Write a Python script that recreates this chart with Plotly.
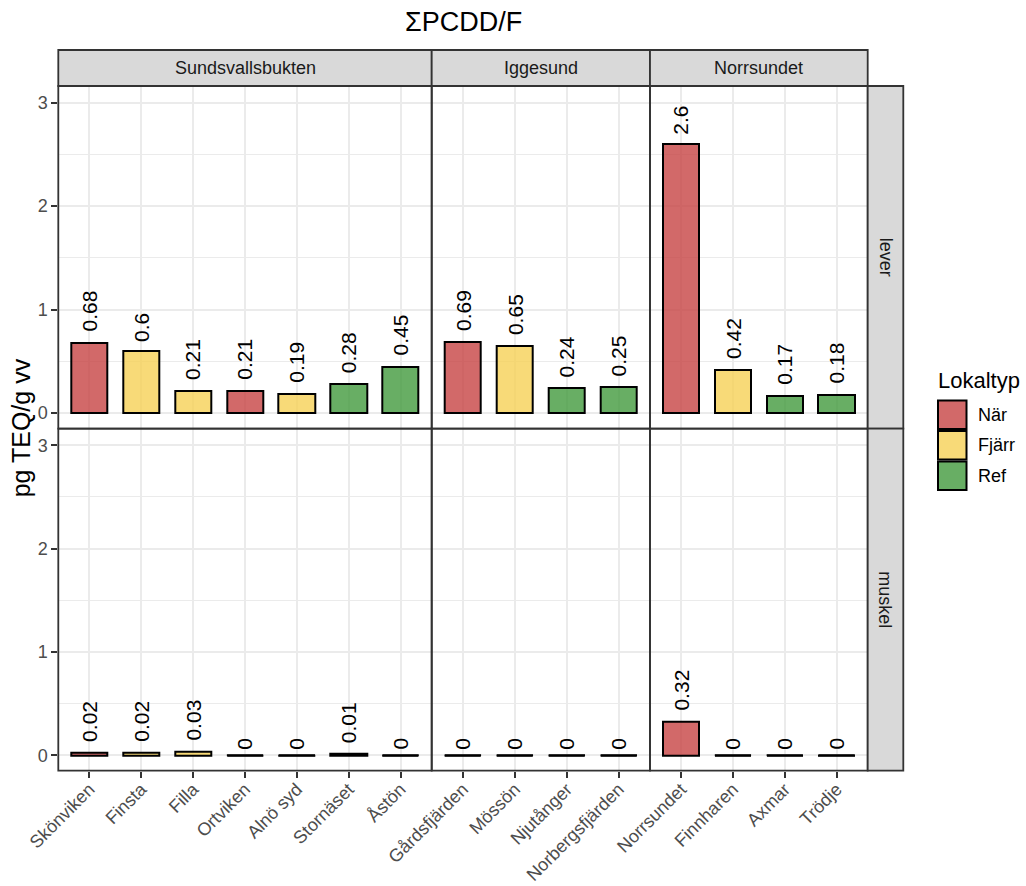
import plotly.graph_objects as go

# ---- data -------------------------------------------------------------
regions = ["Sundsvallsbukten", "Iggesund", "Norrsundet"]
tissues = ["lever", "muskel"]
lokaltyper = ["När", "Fjärr", "Ref"]

sundsvall_sites = ["Skönviken", "Finsta", "Filla", "Ortviken", "Alnö syd", "Stornäset", "Åstön"]
sundsvall_type = ["När", "Fjärr", "Fjärr", "När", "Fjärr", "Ref", "Ref"]
sundsvall_lever = [0.68, 0.6, 0.21, 0.21, 0.19, 0.28, 0.45]
sundsvall_muskel = [0.02, 0.02, 0.03, 0, 0, 0.01, 0]

iggesund_sites = ["Gårdsfjärden", "Mössön", "Njutånger", "Norbergsfjärden"]
iggesund_type = ["När", "Fjärr", "Ref", "Ref"]
iggesund_lever = [0.69, 0.65, 0.24, 0.25]
iggesund_muskel = [0, 0, 0, 0]

norrsundet_sites = ["Norrsundet", "Finnharen", "Axmar", "Trödje"]
norrsundet_type = ["När", "Fjärr", "Ref", "Ref"]
norrsundet_lever = [2.6, 0.42, 0.17, 0.18]
norrsundet_muskel = [0.32, 0, 0, 0]

y_ticks = [0, 1, 2, 3]

sites = {"Sundsvallsbukten": sundsvall_sites, "Iggesund": iggesund_sites,
         "Norrsundet": norrsundet_sites}
site_types = {"Sundsvallsbukten": sundsvall_type, "Iggesund": iggesund_type,
              "Norrsundet": norrsundet_type}
values = {
    "lever": {"Sundsvallsbukten": sundsvall_lever, "Iggesund": iggesund_lever,
              "Norrsundet": norrsundet_lever},
    "muskel": {"Sundsvallsbukten": sundsvall_muskel, "Iggesund": iggesund_muskel,
               "Norrsundet": norrsundet_muskel},
}

# ---- style ------------------------------------------------------------
W, H = 1026, 886
FONT = "Liberation Sans, Arial, sans-serif"
fill = {"När": "rgba(199,68,68,0.8)", "Fjärr": "rgba(246,209,86,0.8)",
        "Ref": "rgba(66,154,61,0.8)"}
BORDER = "#333333"
GRID = "#EBEBEB"
STRIP = "#D9D9D9"
BAR_W = 0.7
LABEL_SIZE = 21

col_edges = [58.3, 431.7, 650.0, 867.7]   # px, panel columns
row_edges = [86.0, 428.7, 770.7]          # px, panel rows
strip_top = 50.0
rstrip_right = 903.3
y_range = [-0.15, 3.16]


def px_x(v):
    return v / W


def px_y(v):
    return 1 - v / H


def label_width(s, size):
    # approximate advance width of a numeric label
    return sum((0.278 if ch == "." else 0.556) for ch in s) * size


fig = go.Figure()
layout_axes = {}
annotations = []
shapes = []

for r, tissue in enumerate(tissues):
    for c, region in enumerate(regions):
        k = r * 3 + c + 1
        xa = "x" if k == 1 else f"x{k}"
        ya = "y" if k == 1 else f"y{k}"
        names = sites[region]
        vals = values[tissue][region]
        types = site_types[region]
        idx = list(range(len(names)))

        fig.add_trace(go.Bar(
            x=idx, y=vals, width=BAR_W, xaxis=xa, yaxis=ya,
            marker=dict(color=[fill[t] for t in types],
                        line=dict(color="black", width=2)),
            showlegend=False, hoverinfo="skip",
        ))

        # zero-height bars still show their outline
        xs, ys = [], []
        for i, v in zip(idx, vals):
            if v == 0:
                xs += [i - BAR_W / 2, i + BAR_W / 2, None]
                ys += [v, v, None]
        if xs:
            fig.add_trace(go.Scatter(
                x=xs, y=ys, mode="lines", xaxis=xa, yaxis=ya,
                line=dict(color="black", width=2),
                showlegend=False, hoverinfo="skip",
            ))

        for i, v in zip(idx, vals):
            txt = f"{v:g}"
            annotations.append(dict(
                x=i, y=v, xref=xa, yref=ya, text=txt, textangle=-90,
                xanchor="center", yanchor="bottom", showarrow=False,
                yshift=0.2 * label_width(txt, LABEL_SIZE) + 1,
                font=dict(family=FONT, size=LABEL_SIZE, color="black"),
            ))

        bottom = r == len(tissues) - 1
        left = c == 0
        xkey = "xaxis" if k == 1 else f"xaxis{k}"
        ykey = "yaxis" if k == 1 else f"yaxis{k}"
        layout_axes[xkey] = dict(
            domain=[px_x(col_edges[c]), px_x(col_edges[c + 1])],
            anchor=ya, range=[-0.6, len(names) - 0.4],
            tickmode="array", tickvals=idx, ticktext=names,
            showticklabels=bottom, ticks="outside" if bottom else "",
            ticklen=6, tickwidth=1.8, tickcolor=BORDER, tickangle=-45,
            ticklabelstandoff=-6,
            tickfont=dict(family=FONT, size=18, color="#4D4D4D"),
            showgrid=True, gridcolor=GRID, gridwidth=1.6, zeroline=False,
            showline=False, fixedrange=True,
        )
        layout_axes[ykey] = dict(
            domain=[px_y(row_edges[r + 1]), px_y(row_edges[r])],
            anchor=xa, range=y_range,
            tickmode="array", tickvals=y_ticks,
            showticklabels=left, ticks="outside" if left else "",
            ticklen=6, tickwidth=1.8, tickcolor=BORDER,
            ticklabelstandoff=0,
            tickfont=dict(family=FONT, size=18, color="#4D4D4D"),
            showgrid=True, gridcolor=GRID, gridwidth=1.6, zeroline=False,
            minor=dict(tickvals=[0.5, 1.5, 2.5], showgrid=True,
                       gridcolor=GRID, gridwidth=0.9, ticks=""),
            showline=False, fixedrange=True,
        )
        # panel border
        shapes.append(dict(type="rect", xref="paper", yref="paper", layer="above",
                           x0=px_x(col_edges[c]), x1=px_x(col_edges[c + 1]),
                           y0=px_y(row_edges[r + 1]), y1=px_y(row_edges[r]),
                           fillcolor="rgba(0,0,0,0)",
                           line=dict(color=BORDER, width=1.8)))

# ---- facet strips -----------------------------------------------------
for c, region in enumerate(regions):
    shapes.append(dict(type="rect", xref="paper", yref="paper",
                       x0=px_x(col_edges[c]), x1=px_x(col_edges[c + 1]),
                       y0=px_y(row_edges[0]), y1=px_y(strip_top),
                       fillcolor=STRIP, line=dict(color=BORDER, width=1.8)))
    annotations.append(dict(
        xref="paper", yref="paper",
        x=px_x((col_edges[c] + col_edges[c + 1]) / 2),
        y=px_y((row_edges[0] + strip_top) / 2),
        text=region, showarrow=False, xanchor="center", yanchor="middle",
        font=dict(family=FONT, size=18, color="#1A1A1A")))

for r, tissue in enumerate(tissues):
    shapes.append(dict(type="rect", xref="paper", yref="paper",
                       x0=px_x(col_edges[-1]), x1=px_x(rstrip_right),
                       y0=px_y(row_edges[r + 1]), y1=px_y(row_edges[r]),
                       fillcolor=STRIP, line=dict(color=BORDER, width=1.8)))
    annotations.append(dict(
        xref="paper", yref="paper",
        x=px_x((col_edges[-1] + rstrip_right) / 2),
        y=px_y((row_edges[r] + row_edges[r + 1]) / 2),
        text=tissue, textangle=90, showarrow=False,
        xanchor="center", yanchor="middle",
        font=dict(family=FONT, size=18, color="#1A1A1A")))

# ---- titles -----------------------------------------------------------
annotations.append(dict(
    xref="paper", yref="paper",
    x=px_x((col_edges[0] + col_edges[-1]) / 2), y=px_y(22),
    text="ΣPCDD/F", showarrow=False, xanchor="center", yanchor="middle",
    font=dict(family=FONT, size=27, color="black")))
annotations.append(dict(
    xref="paper", yref="paper", x=px_x(21),
    y=px_y((row_edges[0] + row_edges[-1]) / 2),
    text="pg TEQ/g vv", textangle=-90, showarrow=False,
    xanchor="center", yanchor="middle",
    font=dict(family=FONT, size=25, color="black")))

# ---- legend -----------------------------------------------------------
leg_x0, leg_key = 938.0, 28.5
annotations.append(dict(
    xref="paper", yref="paper", x=px_x(leg_x0 - 2), y=px_y(381),
    text="Lokaltyp", showarrow=False, xanchor="left", yanchor="middle",
    font=dict(family=FONT, size=22, color="black")))
for j, lt in enumerate(lokaltyper):
    top = 400.5 + j * 30.5
    shapes.append(dict(type="rect", xref="paper", yref="paper",
                       x0=px_x(leg_x0), x1=px_x(leg_x0 + leg_key),
                       y0=px_y(top + leg_key), y1=px_y(top),
                       fillcolor=fill[lt], line=dict(color="black", width=2)))
    annotations.append(dict(
        xref="paper", yref="paper", x=px_x(976), y=px_y(top + leg_key / 2),
        text=lt, showarrow=False, xanchor="left", yanchor="middle",
        font=dict(family=FONT, size=18, color="black")))

fig.update_layout(
    width=W, height=H,
    margin=dict(l=0, r=0, t=0, b=0, autoexpand=False),
    paper_bgcolor="white", plot_bgcolor="white",
    showlegend=False, bargap=0,
    annotations=annotations, shapes=shapes,
    font=dict(family=FONT),
    **layout_axes,
)

fig.write_html("out.html")
